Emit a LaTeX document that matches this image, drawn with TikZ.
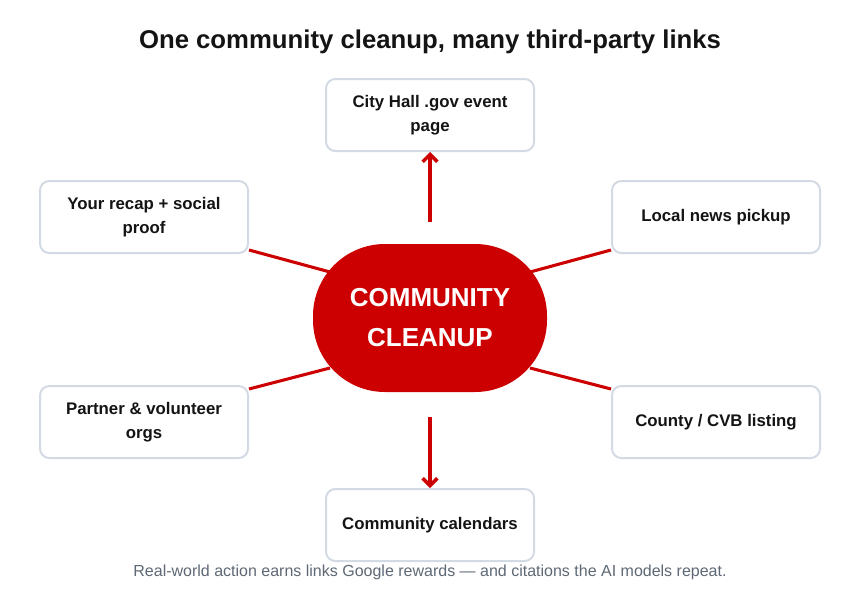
\documentclass[tikz,border=0pt]{standalone}
\usepackage{fontspec}
\setmainfont{Liberation Sans}
\usetikzlibrary{arrows.meta}

\definecolor{linkred}{HTML}{CC0000}
\definecolor{boxline}{HTML}{D3DAE4}
\definecolor{inktext}{HTML}{141414}
\definecolor{notegray}{HTML}{5E6875}

\tikzset{
  site/.style={draw=boxline, line width=1.5pt, rounded corners=7pt, fill=white,
    minimum width=156pt, minimum height=54pt, align=center,
    font=\bfseries\fontsize{12.6}{18}\selectfont, text=inktext},
  hubshape/.style={fill=linkred, rounded corners=54pt, minimum width=175.5pt, minimum height=111pt,
    align=center, text=white, font=\bfseries\fontsize{19.5}{30}\selectfont},
  link/.style={draw=linkred, line width=2.3pt},
  pull/.style={link, -{Straight Barb[length=5.5pt,width=11pt,line width=2.6pt]}}
}

\begin{document}
\begin{tikzpicture}[x=0.75pt,y=-0.75pt]
            \useasboundingbox (0,0) rectangle (860,600);

            \node[font=\bfseries\fontsize{19.3}{22}\selectfont, text=inktext] (title) at (430,42) {One community cleanup, many third-party links};

            % the six places that link back
            \node[site] (cityhall) at (430,115) {City Hall .gov event\\page};
            \node[site] (recap) at (144,217) {Your recap + social\\proof};
            \node[site] (news) at (716,217) {Local news pickup};
            \node[site] (partner) at (144,422) {Partner \& volunteer\\orgs};
            \node[site] (county) at (716,422) {County / CVB listing};
            \node[site] (calendars) at (430,525) {Community calendars};

            % free ends near the hub
            \coordinate (upstart) at (430,222);
            \coordinate (downstart) at (430,417);
            \coordinate (hubnw) at (330,272);
            \coordinate (hubne) at (530,272);
            \coordinate (hubsw) at (330,368);
            \coordinate (hubse) at (530,368);

            \draw[link] ([yshift=3pt]recap.south east) -- (hubnw);
            \draw[link] ([yshift=3pt]news.south west) -- (hubne);
            \draw[link] ([yshift=-3pt]partner.north east) -- (hubsw);
            \draw[link] ([yshift=-3pt]county.north west) -- (hubse);
            \draw[pull] (upstart) -- (cityhall.south);
            \draw[pull] (downstart) -- (calendars.north);

            % the hub
            \node[hubshape] (hub) at (430,318) {COMMUNITY\\CLEANUP};

            \node[text=notegray, font=\fontsize{12}{14}\selectfont] (note) at (430,572) {Real-world action earns links Google rewards — and citations the AI models repeat.};
\end{tikzpicture}
\end{document}
